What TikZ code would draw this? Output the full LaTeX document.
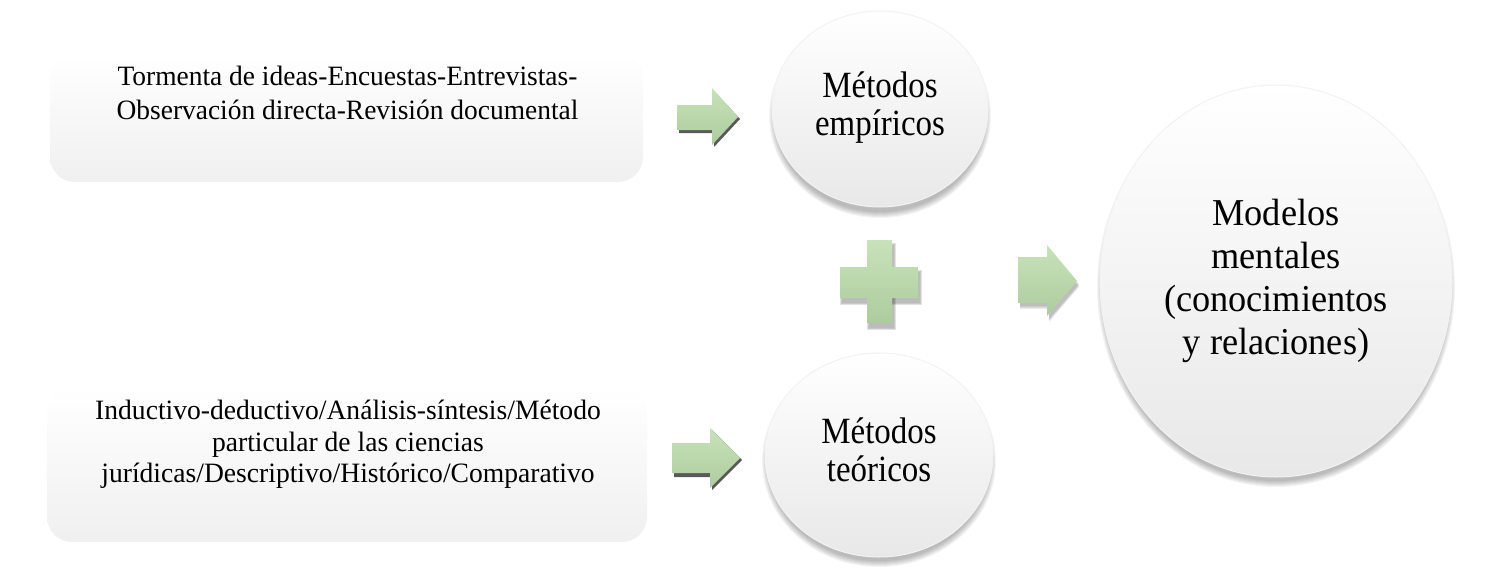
\documentclass[tikz,border=0pt]{standalone}
\usepackage{fontspec}
\usepackage{graphicx}
\setmainfont{Liberation Serif}
\usetikzlibrary{shapes.geometric}
\definecolor{gtop}{HTML}{C8E2B9}
\definecolor{gbot}{HTML}{ADCC9E}
\newcommand\sqtext[2]{\scalebox{#1}[1]{\begin{tabular}{@{}c@{}}#2\end{tabular}}}
\begin{document}
\begin{tikzpicture}[x=1pt,y=-1pt,
  boxstyle/.style={rounded corners=25pt, top color=white, bottom color=black!6, draw=none},
  circstyle/.style={ellipse, inner sep=0pt, top color=white, middle color=white!98!black, bottom color=black!9, draw=black!5, line width=1pt, align=center},
  greenshape/.style={top color=gtop, bottom color=gbot, draw=none},
  boxtext/.style={inner sep=0pt, font=\fontsize{28}{34}\selectfont},
  midtext/.style={font=\fontsize{37}{38}\selectfont},
  bigtext/.style={font=\fontsize{38}{43}\selectfont}]
\useasboundingbox (0,0) rectangle (1503,586);

% text boxes
\node[boxstyle, minimum width=593pt, minimum height=129pt, inner sep=0pt] (box1) at (346.5,117.5) {};
\node[boxstyle, minimum width=600pt, minimum height=155pt, inner sep=0pt] (box2) at (347,464.5) {};
\node[boxtext] (t1) at (347.5,96) {\sqtext{0.98}{Tormenta de ideas-Encuestas-Entrevistas-\\Observación directa-Revisión documental}};
\node[boxtext, font=\fontsize{28}{31.5}\selectfont] (t2) at (348,445) {\sqtext{0.985}{Inductivo-deductivo/Análisis-síntesis/Método\\particular de las ciencias\\jurídicas/Descriptivo/Histórico/Comparativo}};

% soft shadows of the circles
\foreach \cx/\cy/\rx/\ry in {880/110/108/98, 879/455/114/102, 1276/281/176/196}{
  \foreach \k in {0,...,6}{
    \fill[black, opacity=0.045] ({\cx},{\cy+6}) ellipse [x radius={\rx-3+\k}, y radius={\ry-2+\k}];
  }
}

% circles
\node[circstyle, minimum width=216pt, minimum height=196pt, midtext] (emp) at (880,109) {\sqtext{0.89}{Métodos\\empíricos}};
\node[circstyle, minimum width=228pt, minimum height=204pt, midtext] (teo) at (879,455) {\sqtext{0.89}{Métodos\\teóricos}};
\node[circstyle, minimum width=352pt, minimum height=392pt, bigtext] (mod) at (1276,281) {\sqtext{0.955}{Modelos\\mentales\\(conocimientos\\y relaciones)}};

% arrow 1 (top)
\fill[black!65] (679,107) -- (714,107) -- (714,91) -- (740,119) -- (714,147) -- (714,133) -- (679,133) -- cycle;
\path[greenshape] (677,105) -- (712,105) -- (712,88) -- (738,117) -- (712,145) -- (712,130) -- (677,130) -- cycle;

% arrow 2 (bottom)
\fill[black!65] (674,445) -- (712,445) -- (712,430) -- (742,460) -- (712,490) -- (712,477) -- (674,477) -- cycle;
\path[greenshape] (672,443) -- (710,443) -- (710,428) -- (740,458) -- (710,488) -- (710,473) -- (672,473) -- cycle;

% plus
\foreach \k in {0,...,4}{
  \fill[black, opacity=0.06] ({867-\k*0.6+2},{240+5-\k*0.6}) rectangle ({892+\k*0.6+2},{323+5+\k*0.6});
  \fill[black, opacity=0.06] ({840-\k*0.6+2},{267+5-\k*0.6}) rectangle ({918+\k*0.6+2},{298+5+\k*0.6});
}
\path[greenshape] (867,240) -- (892,240) -- (892,267) -- (918,267) -- (918,298) -- (892,298) -- (892,323) -- (867,323) -- (867,298) -- (840,298) -- (840,267) -- (867,267) -- cycle;

% arrow 3 (middle)
\foreach \k in {0,...,3}{
  \fill[black, opacity=0.07] (1020,{260+\k}) -- (1049,{260+\k}) -- (1049,{248+\k}) -- (1079,{284+\k}) -- (1049,{319+\k}) -- (1049,{306+\k}) -- (1020,{306+\k}) -- cycle;
}
\path[greenshape] (1018,257) -- (1047,257) -- (1047,245) -- (1077,281) -- (1047,316) -- (1047,303) -- (1018,303) -- cycle;
\end{tikzpicture}
\end{document}
